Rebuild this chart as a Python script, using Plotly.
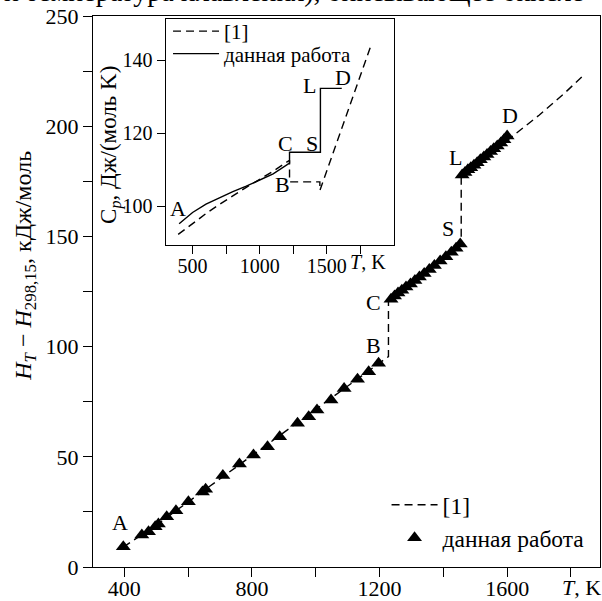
import plotly.graph_objects as go

# ---- main chart data: H_T - H_298.15, kJ/mol ----
exp_T = [397, 455, 476, 497, 507, 533, 562, 601, 645, 655, 709, 761, 805, 849, 887,
         943, 978, 1004, 1048, 1089, 1131, 1166, 1197,
         1236, 1247, 1258, 1270, 1283, 1297, 1311, 1325, 1340, 1356, 1372, 1390, 1408, 1425, 1440, 1453,
         1459, 1468, 1477, 1486, 1496, 1506, 1516, 1527, 1537, 1548, 1558, 1569, 1580, 1590, 1600]
exp_H = [9.2, 14.5, 16.0, 18.3, 19.5, 22.8, 25.5, 29.6, 34.0, 35.3, 41.5, 46.7, 50.8, 54.6, 59.1,
         65.2, 68.2, 71.2, 75.8, 81.0, 85.2, 88.6, 92.4,
         121.5, 123.0, 124.3, 125.6, 127.0, 128.4, 130.0, 131.6, 133.2, 135.0, 136.8, 138.8, 140.8, 142.8, 144.6, 146.5,
         177.9, 179.0, 180.2, 181.2, 182.3, 183.4, 184.8, 186.0, 187.2, 188.5, 189.8, 191.0, 192.4, 193.8, 195.5]

ref_T = [397, 500, 600, 700, 800, 900, 1000, 1100, 1228, 1228, 1300, 1400, 1456, 1456, 1530, 1600, 1700, 1780, 1840]
ref_H = [9.0, 19.0, 29.5, 40.0, 50.5, 61.0, 71.5, 82.0, 95.5, 120.5, 128.5, 140.0, 147.5, 176.5, 185.0, 193.5, 205.0, 215.0, 223.2]

point_labels = ["A", "B", "C", "S", "L", "D"]
label_T = [387, 1181, 1181, 1416, 1438, 1610]
label_H = [20, 100.4, 120, 153.8, 185.6, 205]

x_tickvals = [400, 600, 800, 1000, 1200, 1400, 1600, 1800]
x_ticktext = ["400", "", "800", "", "1200", "", "1600", ""]
y_tickvals = [0, 25, 50, 75, 100, 125, 150, 175, 200, 225, 250]
y_ticktext = ["0", "", "50", "", "100", "", "150", "", "200", "", "250"]

# ---- inset data: Cp, J/(mol K) ----
cp_work_T = [400, 500, 600, 700, 800, 900, 1000, 1100, 1222, 1222, 1452, 1452, 1611]
cp_work = [95.2, 98.3, 100.6, 102.4, 104.0, 105.5, 107.1, 108.9, 111.8, 114.8, 114.8, 132.3, 132.3]
cp_ref_T = [393, 500, 600, 700, 800, 900, 1000, 1100, 1222, 1222, 1448, 1448, 1826]
cp_ref = [92.3, 95.3, 98.0, 100.5, 102.9, 105.2, 107.4, 109.6, 112.6, 106.7, 106.7, 104.3, 143.8]

inset_labels = ["A", "B", "C", "S", "L", "D"]
inset_label_T = [393, 1171, 1191, 1386, 1369, 1621]
inset_label_Cp = [99.3, 106.0, 117.3, 117.3, 133.0, 135.3]

ix_tickvals = [500, 750, 1000, 1250, 1500, 1750]
ix_ticktext = ["500", "", "1000", "", "1500", ""]
iy_tickvals = [100, 120, 140]

FONT = "Liberation Serif"
fs = 22      # main tick labels
fsi = 20     # inset tick labels
fl = 22      # point labels
ft = 23      # axis titles

fig = go.Figure()
fig.add_trace(go.Scatter(x=ref_T, y=ref_H, mode="lines", name="[1]",
                         line=dict(color="black", width=1.4, dash="8px,5px"),
                         legend="legend"))
fig.add_trace(go.Scatter(x=exp_T, y=exp_H, mode="markers", name="данная работа",
                         marker=dict(symbol="triangle-up", size=13, color="black"),
                         legend="legend4"))
fig.add_trace(go.Scatter(x=cp_ref_T, y=cp_ref, mode="lines", name="[1]",
                         line=dict(color="black", width=1.4, dash="8px,5px"),
                         xaxis="x2", yaxis="y2", legend="legend2"))
fig.add_trace(go.Scatter(x=cp_work_T, y=cp_work, mode="lines", name="данная работа",
                         line=dict(color="black", width=1.4),
                         xaxis="x2", yaxis="y2", legend="legend3"))

ann = []
for t, xx, yy in zip(point_labels, label_T, label_H):
    ann.append(dict(x=xx, y=yy, xref="x", yref="y", text=t, showarrow=False,
                    font=dict(family=FONT, size=fl, color="black")))
for t, xx, yy in zip(inset_labels, inset_label_T, inset_label_Cp):
    ann.append(dict(x=xx, y=yy, xref="x2", yref="y2", text=t, showarrow=False,
                    font=dict(family=FONT, size=fl, color="black")))
# axis unit labels placed at the last tick positions
ann.append(dict(x=1800, xref="x", xshift=11, y=-0.038, yref="paper",
                xanchor="center", yanchor="middle", text="<i>T</i>, K", showarrow=False,
                font=dict(family=FONT, size=fs, color="black")))
ann.append(dict(x=1750, xref="x2", xshift=8, y=0.553, yref="paper",
                xanchor="center", yanchor="middle", text="<i>T</i>, K", showarrow=False,
                font=dict(family=FONT, size=fsi, color="black")))
ann.append(dict(x=-0.133, y=0.546, xref="paper", yref="paper", textangle=-90,
                xanchor="center", yanchor="middle",
                text="<i>H<sub>T</sub></i> − <i>H</i><sub>298,15</sub>, кДж/моль",
                showarrow=False, font=dict(family=FONT, size=ft + 1, color="black")))
ann.append(dict(x=0.0355, y=0.766, xref="paper", yref="paper", textangle=-90,
                xanchor="center", yanchor="middle",
                text="C<sub><i>p</i></sub>, Дж/(моль K)",
                showarrow=False, font=dict(family=FONT, size=ft, color="black")))
ann.append(dict(x=-0.18, y=1.045, xref="paper", yref="paper", xanchor="left", yanchor="middle",
                text="и температура плавления), описывающее окисле",
                showarrow=False, font=dict(family=FONT, size=28, color="black")))

def axis_style(size, tl=9):
    return dict(showline=True, mirror=True, linecolor="black", linewidth=1.3,
                ticks="outside", ticklen=tl, tickcolor="black", tickwidth=1.3,
                showgrid=False, zeroline=False, tickangle=0, automargin=False,
                tickfont=dict(family=FONT, size=size, color="black"))

def leg(x, y, size):
    return dict(x=x, y=y, xanchor="left", yanchor="middle", bgcolor="rgba(0,0,0,0)",
                font=dict(family=FONT, size=size, color="black"), itemwidth=46)

fig.update_layout(
    width=602, height=601,
    margin=dict(l=93, r=2, t=16, b=34, autoexpand=False),
    paper_bgcolor="white", plot_bgcolor="white",
    font=dict(family=FONT, size=fs, color="black"),
    xaxis=dict(domain=[0, 1], range=[302, 1891], tickmode="array", ticklabelstandoff=-8,
               tickvals=x_tickvals, ticktext=x_ticktext, **axis_style(fs)),
    yaxis=dict(domain=[0, 1], range=[0, 250], tickmode="array",
               tickvals=y_tickvals, ticktext=y_ticktext, **axis_style(fs)),
    xaxis2=dict(domain=[0.1434, 0.5937], range=[300, 2000], anchor="y2", tickmode="array",
                ticklabelstandoff=-5,
                tickvals=ix_tickvals, ticktext=ix_ticktext, **axis_style(fsi, 8)),
    yaxis2=dict(domain=[0.5844, 0.9946], range=[89.4, 151.3], anchor="x2", tickmode="array",
                tickvals=iy_tickvals, **axis_style(fsi, 8)),
    legend=leg(0.579, 0.1125, 23.5),
    legend4=leg(0.579, 0.0526, 23.5),
    legend2=leg(0.148, 0.972, 21),
    legend3=leg(0.148, 0.931, 21),
    annotations=ann,
    showlegend=True,
)

fig.write_html("out.html")
